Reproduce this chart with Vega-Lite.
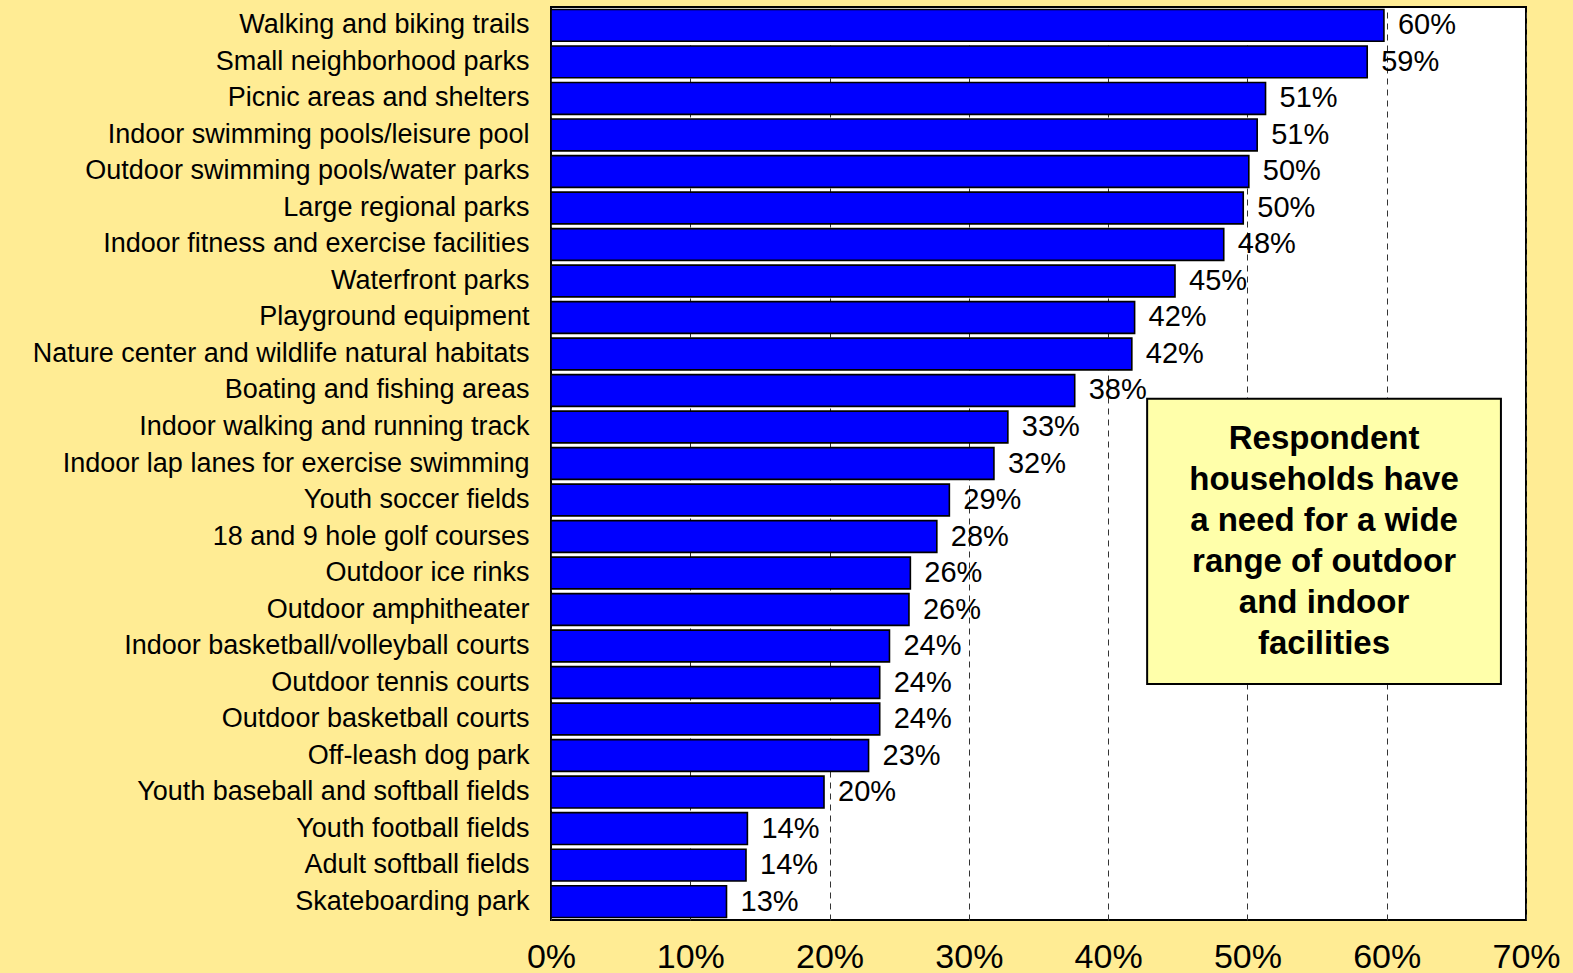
{
  "$schema": "https://vega.github.io/schema/vega-lite/v6.json",
  "autosize": {"type": "none"},
  "padding": {"left": 551, "top": 7, "right": 47, "bottom": 53},
  "width": 975,
  "height": 913,
  "background": "#FFEC94",
  "config": {
    "font": "Liberation Sans",
    "view": {"fill": "white", "stroke": "black", "strokeWidth": 2}
  },
  "datasets": {
    "bars": [
      {"facility": "Walking and biking trails", "share": 0.598},
      {"facility": "Small neighborhood parks", "share": 0.586},
      {"facility": "Picnic areas and shelters", "share": 0.513},
      {"facility": "Indoor swimming pools/leisure pool", "share": 0.507},
      {"facility": "Outdoor swimming pools/water parks", "share": 0.501},
      {"facility": "Large regional parks", "share": 0.497},
      {"facility": "Indoor fitness and exercise facilities", "share": 0.483},
      {"facility": "Waterfront parks", "share": 0.448},
      {"facility": "Playground equipment", "share": 0.419},
      {"facility": "Nature center and wildlife natural habitats", "share": 0.417},
      {"facility": "Boating and fishing areas", "share": 0.376},
      {"facility": "Indoor walking and running track", "share": 0.328},
      {"facility": "Indoor lap lanes for exercise swimming", "share": 0.318},
      {"facility": "Youth soccer fields", "share": 0.286},
      {"facility": "18 and 9 hole golf courses", "share": 0.277},
      {"facility": "Outdoor ice rinks", "share": 0.258},
      {"facility": "Outdoor amphitheater", "share": 0.257},
      {"facility": "Indoor basketball/volleyball courts", "share": 0.243},
      {"facility": "Outdoor tennis courts", "share": 0.236},
      {"facility": "Outdoor basketball courts", "share": 0.236},
      {"facility": "Off-leash dog park", "share": 0.228},
      {"facility": "Youth baseball and softball fields", "share": 0.196},
      {"facility": "Youth football fields", "share": 0.141},
      {"facility": "Adult softball fields", "share": 0.140},
      {"facility": "Skateboarding park", "share": 0.126}
    ],
    "note": [
      {"x0": 0.428, "x1": 0.682, "row0": 10.73, "row1": 18.54, "xc": 0.555, "rowc": 11.82,
       "label": "Respondent\nhouseholds have\na need for a wide\nrange of outdoor\nand indoor\nfacilities"}
    ]
  },
  "layer": [
    {
      "data": {"name": "bars"},
      "layer": [
        {
          "mark": {"type": "bar", "fill": "#0000FF", "stroke": "black", "strokeWidth": 1.6},
          "encoding": {
            "y": {
              "field": "facility", "type": "nominal", "sort": null,
              "scale": {"paddingInner": 0.13, "paddingOuter": 0.07},
              "axis": {"title": null, "domain": false, "ticks": false, "labelPadding": 22,
                       "labelFontSize": 27, "labelColor": "black", "labelLimit": 0}
            },
            "x": {
              "field": "share", "type": "quantitative",
              "scale": {"domain": [0, 0.7], "nice": false, "zero": true},
              "axis": {"title": null, "format": ".0%", "values": [0, 0.1, 0.2, 0.3, 0.4, 0.5, 0.6, 0.7],
                       "domain": false, "ticks": false, "grid": true, "gridDash": [6, 5],
                       "gridColor": "#333333", "gridWidth": 1, "gridOpacity": 1,
                       "labelFontSize": 34, "labelColor": "black", "labelPadding": 20, "labelFlush": false}
            }
          }
        },
        {
          "mark": {"type": "text", "align": "left", "baseline": "middle", "dx": 14, "fontSize": 29, "color": "black"},
          "encoding": {
            "y": {"field": "facility", "type": "nominal", "sort": null},
            "x": {"field": "share", "type": "quantitative"},
            "text": {"field": "share", "type": "quantitative", "format": ".0%"}
          }
        }
      ]
    },
    {
      "data": {"name": "note"},
      "layer": [
        {
          "mark": {"type": "rect", "fill": "#FFFFAA", "stroke": "black", "strokeWidth": 2},
          "encoding": {
            "x": {"field": "x0", "type": "quantitative"},
            "x2": {"field": "x1"},
            "y": {"field": "row0", "type": "quantitative", "scale": {"domain": [0, 25], "reverse": true, "nice": false, "zero": false}, "axis": null},
            "y2": {"field": "row1"}
          }
        },
        {
          "mark": {"type": "text", "align": "center", "baseline": "middle", "fontSize": 33, "fontWeight": "bold",
                   "lineBreak": "\n", "lineHeight": 41, "color": "black"},
          "encoding": {
            "x": {"field": "xc", "type": "quantitative"},
            "y": {"field": "rowc", "type": "quantitative", "scale": {"domain": [0, 25], "reverse": true, "nice": false, "zero": false}, "axis": null},
            "text": {"field": "label"}
          }
        }
      ]
    }
  ],
  "resolve": {"scale": {"y": "independent"}, "axis": {"y": "independent"}}
}
